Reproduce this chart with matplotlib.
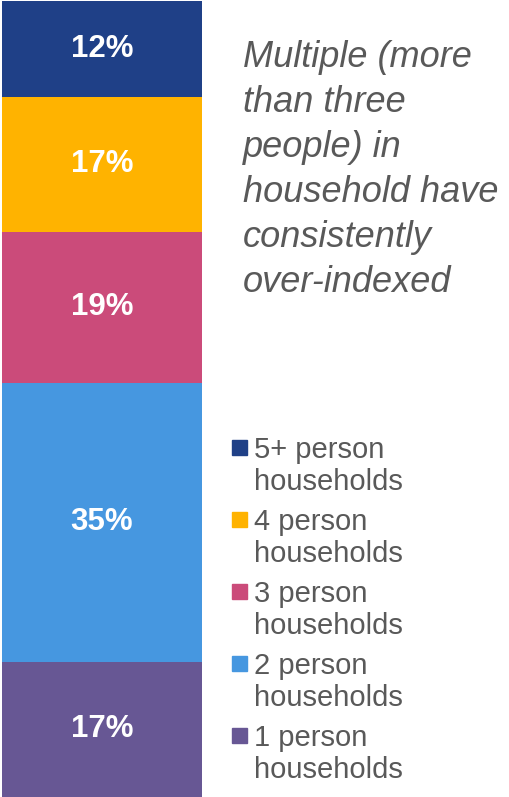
import numpy as np
import matplotlib.pyplot as plt
from matplotlib.patches import Rectangle

# data, bottom -> top
categories = ["1 person\nhouseholds", "2 person\nhouseholds", "3 person\nhouseholds",
              "4 person\nhouseholds", "5+ person\nhouseholds"]
shares = [17, 35, 19, 17, 12]
colors = ["#675794", "#4697E0", "#CB4B7A", "#FFB300", "#1F4087"]
note_lines = ["Multiple (more", "than three", "people) in",
              "household have", "consistently", "over-indexed"]

W, H = 509, 797
fig = plt.figure(figsize=(W / 100, H / 100), dpi=100)
plt.rcParams['font.family'] = ['Liberation Sans', 'DejaVu Sans']
grey = "#595959"

ax = fig.add_axes([2 / W, 0, 200 / W, 796 / H])
bottoms = np.concatenate([[0], np.cumsum(shares)[:-1]])
ax.bar([0] * len(shares), shares, bottom=bottoms, width=1.0, color=colors)
for b, s in zip(bottoms, shares):
    ax.text(0, b + s / 2, f"{s}%", ha="center", va="center",
            color="white", fontsize=22.5, fontweight="bold")
ax.set_xlim(-0.5, 0.5)
ax.set_ylim(0, 100)
ax.axis("off")

# side note, one text per line so spacing stays even
for i, line in enumerate(note_lines):
    fig.text(243 / W, 1 - (67 + 45 * i) / H, line, ha="left", va="baseline",
             fontsize=26, style="italic", color=grey)

# legend drawn by hand: square beside first line, label wraps under
for i, (cat, col) in enumerate(zip(categories[::-1], colors[::-1])):
    top_base = 458 + 72 * i
    fig.patches.append(Rectangle((232 / W, 1 - (top_base - 3) / H), 15 / W, 15 / H,
                                 transform=fig.transFigure, color=col))
    for j, part in enumerate(cat.split("\n")):
        fig.text(254 / W, 1 - (top_base + 32 * j) / H, part, ha="left",
                 va="baseline", fontsize=21, color=grey)

fig.savefig("out.png", dpi=100)
